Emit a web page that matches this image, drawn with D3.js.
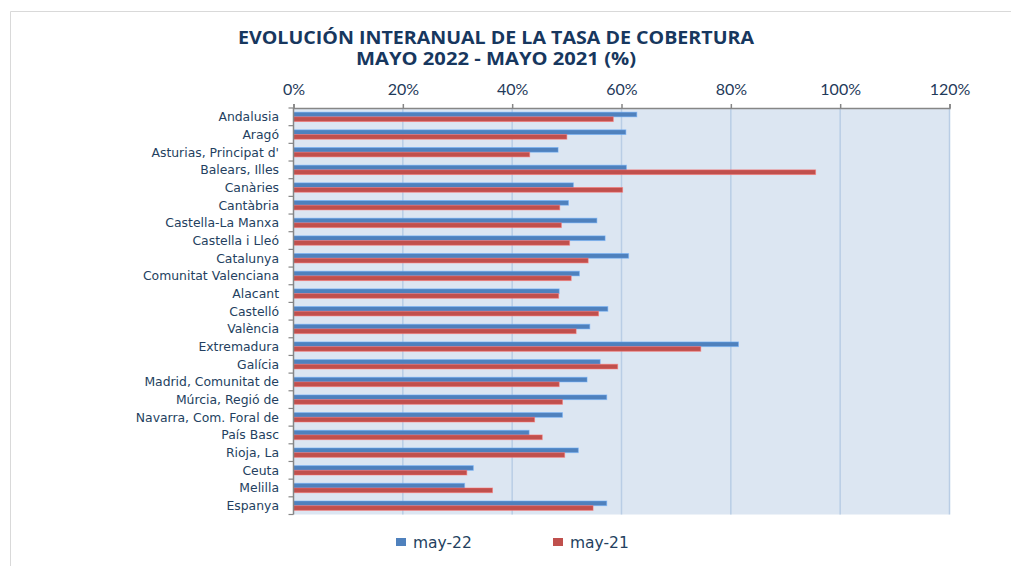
<!DOCTYPE html>
<html>
<head>
<meta charset="utf-8">
<script src="https://d3js.org/d3.v7.min.js"></script>
<style>
  body { margin: 0; background: #fff; }
  svg { display: block; }
</style>
</head>
<body>
<script>
// categories, top to bottom
var regions = ["Andalusia", "Aragó", "Asturias, Principat d'", "Balears, Illes", "Canàries",
    "Cantàbria", "Castella-La Manxa", "Castella i Lleó", "Catalunya", "Comunitat Valenciana",
    "Alacant", "Castelló", "València", "Extremadura", "Galícia", "Madrid, Comunitat de ",
    "Múrcia, Regió de", "Navarra, Com. Foral de", "País Basc", "Rioja, La", "Ceuta",
    "Melilla", "Espanya"];

// tasa de cobertura (%)
var may22 = [62.8, 60.8, 48.4, 60.9, 51.2, 50.3, 55.5, 57.0, 61.3, 52.3, 48.6, 57.5,
    54.2, 81.4, 56.1, 53.7, 57.3, 49.2, 43.1, 52.1, 32.9, 31.3, 57.3];
var may21 = [58.5, 50.0, 43.2, 95.5, 60.2, 48.7, 49.0, 50.5, 53.9, 50.8, 48.5, 55.8,
    51.7, 74.5, 59.3, 48.6, 49.2, 44.1, 45.5, 49.6, 31.7, 36.4, 54.8];

var seriesNames = ["may-22", "may-21"];
var seriesColors = ["#4F81BD", "#C0504D"];
var xTicks = [0, 20, 40, 60, 80, 100, 120];

var W = 1011, H = 566;
var plot = {left: 293.5, right: 949.5, top: 108, bottom: 514.5};

var svg = d3.select("body").append("svg")
    .attr("width", W)
    .attr("height", H);

// outer chart frame
svg.append("path")
    .attr("d", "M10.5," + H + "V11.5H" + W)
    .attr("fill", "none")
    .attr("stroke", "#d9d9d9")
    .attr("stroke-width", 1);

// title
var title = svg.append("text")
    .attr("text-anchor", "middle")
    .attr("font-family", "'Open Sans', Lato, sans-serif")
    .attr("font-weight", "bold")
    .attr("font-size", 17)
    .attr("fill", "#17375E");
title.append("tspan").attr("x", 496).attr("y", 44)
    .attr("textLength", 516).attr("lengthAdjust", "spacingAndGlyphs")
    .text("EVOLUCIÓN INTERANUAL DE LA TASA DE COBERTURA");
title.append("tspan").attr("x", 496).attr("y", 65)
    .attr("textLength", 280).attr("lengthAdjust", "spacingAndGlyphs")
    .text("MAYO 2022 - MAYO 2021 (%)");

var x = d3.scaleLinear()
    .domain([0, 120])
    .range([plot.left, plot.right]);

var y = d3.scaleBand()
    .domain(regions)
    .range([plot.top, plot.bottom])
    .paddingInner(0.47)
    .paddingOuter(0.235);

var ySub = d3.scaleBand()
    .domain(seriesNames)
    .range([0, y.bandwidth()]);

// plot background
svg.append("rect")
    .attr("x", plot.left)
    .attr("y", plot.top)
    .attr("width", plot.right - plot.left)
    .attr("height", plot.bottom - plot.top)
    .attr("fill", "#DCE6F2");

// vertical gridlines
svg.append("g")
    .selectAll("line")
    .data(xTicks.slice(1))
    .enter().append("line")
    .attr("x1", function(d) { return x(d); })
    .attr("x2", function(d) { return x(d); })
    .attr("y1", plot.top)
    .attr("y2", plot.bottom)
    .attr("stroke", "#B9CDE5")
    .attr("stroke-width", 1.5);

// bars
var series = [may22, may21];
var groups = svg.append("g")
    .selectAll("g")
    .data(series)
    .enter().append("g")
    .attr("fill", function(d, i) { return seriesColors[i]; })
    .attr("stroke", function(d, i) { return d3.color(seriesColors[i]).brighter(0.9); })
    .attr("stroke-opacity", 0.5)
    .attr("stroke-width", 1);

groups.each(function(vals, si) {
    d3.select(this).selectAll("rect")
        .data(vals)
        .enter().append("rect")
        .attr("x", x(0))
        .attr("y", function(d, i) { return y(regions[i]) + ySub(seriesNames[si]); })
        .attr("width", function(d) { return x(d) - x(0); })
        .attr("height", ySub.bandwidth());
});

// top axis
var xAxis = d3.axisTop(x)
    .tickValues(xTicks)
    .tickSize(4)
    .tickPadding(9)
    .tickFormat(function(d) { return d + "%"; });

var gx = svg.append("g")
    .attr("transform", "translate(0," + plot.top + ")")
    .call(xAxis);
gx.select(".domain").attr("stroke", "#868686").attr("stroke-width", 1.5);
gx.selectAll(".tick line").attr("stroke", "#868686").attr("stroke-width", 1.5);
gx.selectAll(".tick text")
    .attr("font-family", "Lato, 'Open Sans', sans-serif")
    .attr("font-size", 16)
    .attr("fill", "#1F3A5A");

// left axis: line with ticks at category boundaries
var bounds = d3.range(regions.length + 1).map(function(i) {
    return plot.top + i * y.step();
});
svg.append("line")
    .attr("x1", plot.left).attr("x2", plot.left)
    .attr("y1", plot.top).attr("y2", plot.bottom)
    .attr("stroke", "#868686").attr("stroke-width", 1.5);
svg.append("g")
    .selectAll("line")
    .data(bounds)
    .enter().append("line")
    .attr("x1", plot.left - 5).attr("x2", plot.left)
    .attr("y1", function(d) { return d; })
    .attr("y2", function(d) { return d; })
    .attr("stroke", "#868686").attr("stroke-width", 1.2);

// category labels
svg.append("g")
    .selectAll("text")
    .data(regions)
    .enter().append("text")
    .attr("x", 279)
    .attr("y", function(d) { return y(d) + y.bandwidth() / 2; })
    .attr("dy", "0.35em")
    .attr("text-anchor", "end")
    .attr("font-family", "'DejaVu Sans', Verdana, sans-serif")
    .attr("font-size", 12.4)
    .attr("fill", "#243F60")
    .text(function(d) { return d; });

// legend
var legendX = [396, 553];
var legend = svg.append("g")
    .selectAll("g")
    .data(seriesNames)
    .enter().append("g")
    .attr("transform", function(d, i) { return "translate(" + legendX[i] + ",538)"; });
legend.append("rect")
    .attr("width", 10)
    .attr("height", 8)
    .attr("fill", function(d, i) { return seriesColors[i]; });
legend.append("text")
    .attr("x", 17)
    .attr("y", 10)
    .attr("font-family", "'DejaVu Sans', Verdana, sans-serif")
    .attr("font-size", 15.5)
    .attr("fill", "#243F60")
    .text(function(d) { return d; });
</script>
</body>
</html>
